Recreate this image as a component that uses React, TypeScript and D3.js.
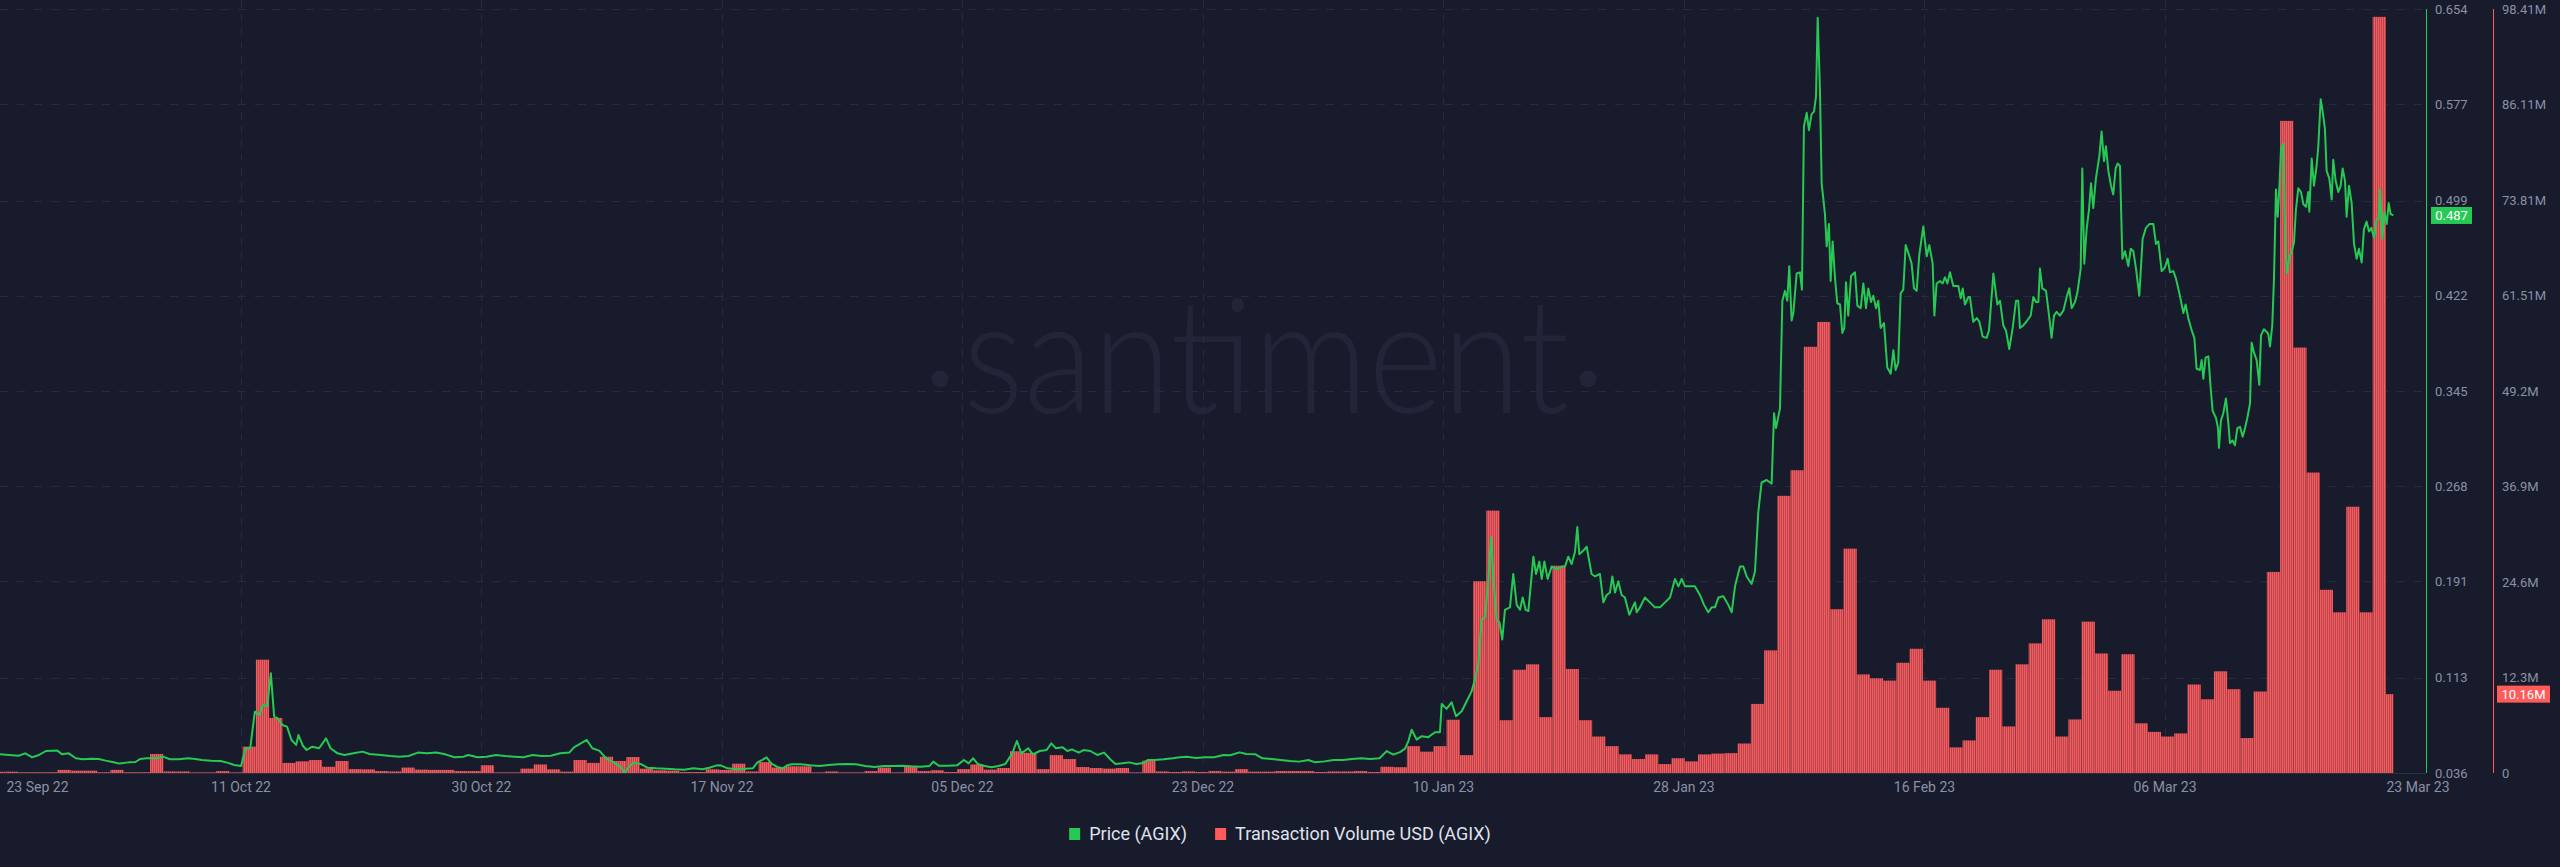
import React, { useEffect, useRef } from 'react';
import * as d3 from 'd3';

const W = 2560;
const H = 867;

// plot frame
const plotRight = 2426;
const plotTop = 9;
const plotBottom = 773;
const priceAxisX = 2426.5;
const volumeAxisX = 2493.5;

const BG = '#181b2b';
const GREEN = '#26c953';
const RED = '#ff5b5b';
const GRID = '#272b3d';
const MUTED = '#8a90a6';
const FONT = 'Roboto, "Noto Sans", sans-serif';

const startDay = Date.UTC(2022, 8, 23);
const dayToDate = (d: number) => new Date(startDay + d * 864e5);

const xTickLabels = [
  '23 Sep 22', '11 Oct 22', '30 Oct 22', '17 Nov 22', '05 Dec 22', '23 Dec 22',
  '10 Jan 23', '28 Jan 23', '16 Feb 23', '06 Mar 23', '23 Mar 23',
];

const priceTicks = [0.036, 0.113, 0.191, 0.268, 0.345, 0.422, 0.499, 0.577, 0.654];
const volumeTicks = [0, 12.3, 24.6, 36.9, 49.2, 61.51, 73.81, 86.11, 98.41];
const volumeTickLabels = ['0', '12.3M', '24.6M', '36.9M', '49.2M', '61.51M', '73.81M', '86.11M', '98.41M'];

// daily transaction volume (millions USD), from 23 Sep 22
const volumeM = [
  0.15, 0.17, 0.1, 0.1, 0.1, 0.4, 0.3, 0.3, 0.1, 0.4,
  0.1, 0.1, 2.45, 0.2, 0.2, 0.08, 0.08, 0.25, 0.08, 3.4,
  14.6, 7.1, 1.3, 1.5, 1.67, 0.8, 1.55, 0.5, 0.47, 0.25,
  0.2, 0.7, 0.43, 0.4, 0.4, 0.25, 0.25, 1.0, 0.08, 0.08,
  0.56, 1.1, 0.47, 0.17, 1.67, 1.3, 2.1, 1.55, 2.06, 0.56,
  0.35, 0.3, 0.13, 0.13, 0.47, 0.4, 1.2, 0.2, 1.4, 0.7,
  0.86, 0.86, 0.08, 0.2, 0.08, 0.08, 0.25, 0.7, 0.08, 0.8,
  0.25, 0.35, 0.13, 0.5, 1.1, 0.43, 0.64, 2.8, 2.6, 0.5,
  2.3, 1.8, 0.77, 0.64, 0.56, 0.64, 0.08, 1.6, 0.2, 0.13,
  0.2, 0.13, 0.25, 0.17, 0.5, 0.17, 0.17, 0.25, 0.25, 0.25,
  0.13, 0.2, 0.2, 0.25, 0.13, 0.8, 0.75, 3.46, 2.75, 3.46,
  6.86, 2.3, 24.7, 33.8, 6.8, 13.3, 14.0, 7.2, 26.7, 13.4,
  6.8, 4.7, 3.46, 2.4, 1.8, 2.4, 1.15, 1.9, 1.5, 2.4,
  2.5, 2.56, 3.8, 8.9, 15.8, 35.7, 39.0, 54.9, 58.1, 21.1,
  28.9, 12.7, 12.2, 11.9, 14.2, 16.0, 11.9, 8.4, 3.3, 4.2,
  7.2, 13.3, 6.0, 14.0, 16.7, 19.8, 4.7, 6.9, 19.5, 15.4,
  10.6, 15.3, 6.4, 5.3, 4.7, 5.1, 11.4, 9.5, 13.1, 10.8,
  4.5, 10.5, 25.9, 84.0, 54.8, 38.7, 23.6, 20.7, 34.3, 20.7,
  97.4, 10.16,
];

// price (USD): [days since 23 Sep 22, price]
const priceSeries: [number, number][] = [
  [0.66, 0.0511], [2.05, 0.05], [2.57, 0.0519], [3.09, 0.0487], [3.61, 0.0506], [4.13, 0.0538], [5.0, 0.0541],
  [5.34, 0.0511], [5.86, 0.0519], [6.38, 0.0479], [6.91, 0.0471], [7.6, 0.0476], [8.12, 0.0473], [8.64, 0.046],
  [9.16, 0.0449], [9.68, 0.0436], [10.38, 0.0446], [10.9, 0.0449], [11.24, 0.0473], [11.76, 0.0479], [12.46, 0.0479],
  [12.98, 0.0492], [13.5, 0.0471], [14.19, 0.0471], [14.89, 0.0479], [15.41, 0.0473], [15.93, 0.0465], [16.62, 0.046],
  [17.32, 0.0457], [17.84, 0.0444], [18.36, 0.0425], [18.88, 0.0417], [19.22, 0.056], [19.57, 0.056], [19.92, 0.0856],
  [20.27, 0.0829], [20.51, 0.091], [20.86, 0.0902], [21.13, 0.1166], [21.38, 0.0816], [21.65, 0.0802], [22.0, 0.0748],
  [22.35, 0.0735], [22.69, 0.0627], [23.04, 0.0587], [23.22, 0.0667], [23.56, 0.0578], [23.84, 0.0546], [24.26, 0.0573],
  [24.78, 0.056], [25.3, 0.064], [25.64, 0.056], [26.17, 0.0519], [26.69, 0.0506], [27.38, 0.0519], [28.07, 0.0533],
  [28.59, 0.0514], [29.46, 0.0506], [30.16, 0.0498], [30.85, 0.0492], [31.54, 0.0498], [32.24, 0.0525], [32.93, 0.0519],
  [33.63, 0.0525], [34.32, 0.0511], [35.01, 0.0487], [35.71, 0.0492], [36.06, 0.0506], [36.75, 0.0487], [37.44, 0.0492],
  [38.14, 0.0506], [38.83, 0.0498], [39.53, 0.0492], [40.22, 0.0487], [40.91, 0.0506], [41.61, 0.0498], [42.3, 0.05],
  [43.0, 0.0519], [43.69, 0.0525], [44.04, 0.0568], [44.56, 0.06], [45.01, 0.0627], [45.43, 0.056], [45.95, 0.0541],
  [46.47, 0.0479], [47.16, 0.0438], [47.68, 0.0398], [47.85, 0.0357], [48.2, 0.0411], [48.55, 0.0444], [49.07, 0.0433],
  [49.59, 0.0403], [50.28, 0.0398], [50.98, 0.0395], [51.67, 0.039], [52.37, 0.0387], [53.06, 0.0398], [53.75, 0.039],
  [54.27, 0.0403], [54.78, 0.042], [55.13, 0.0422], [55.65, 0.0398], [56.35, 0.039], [57.04, 0.0395], [57.56, 0.0398],
  [57.91, 0.0446], [58.25, 0.0465], [58.6, 0.0487], [58.95, 0.0438], [59.47, 0.0406], [59.82, 0.0398], [60.16, 0.0422],
  [60.51, 0.043], [61.2, 0.043], [61.9, 0.0422], [62.59, 0.0417], [63.29, 0.0425], [63.98, 0.043], [64.67, 0.0433],
  [65.37, 0.043], [66.06, 0.0417], [66.76, 0.0409], [67.45, 0.0417], [68.14, 0.0417], [68.84, 0.0419], [69.53, 0.0414],
  [70.23, 0.0411], [70.92, 0.0417], [71.2, 0.0452], [71.62, 0.0419], [72.31, 0.0419], [73.0, 0.0422], [73.52, 0.0465],
  [73.87, 0.0438], [74.22, 0.0479], [74.56, 0.0433], [75.08, 0.0417], [75.61, 0.0406], [76.13, 0.0417], [76.65, 0.0433],
  [77.17, 0.0519], [77.52, 0.0619], [77.86, 0.0519], [78.38, 0.056], [78.73, 0.0511], [79.25, 0.0538], [79.77, 0.0546],
  [80.12, 0.06], [80.47, 0.056], [80.98, 0.0568], [81.33, 0.0538], [81.68, 0.0551], [82.2, 0.0525], [82.55, 0.0546],
  [83.07, 0.0538], [83.59, 0.0506], [84.11, 0.0525], [84.63, 0.0465], [84.98, 0.0433], [85.5, 0.0438], [86.02, 0.0446],
  [86.54, 0.0433], [87.06, 0.0441], [87.41, 0.0465], [87.93, 0.0465], [88.62, 0.0471], [89.31, 0.0479], [89.83, 0.0487],
  [90.36, 0.0492], [91.05, 0.0481], [91.74, 0.0487], [92.44, 0.0487], [93.13, 0.0506], [93.65, 0.0503], [94.35, 0.0527],
  [94.87, 0.0514], [95.56, 0.0511], [96.08, 0.0479], [96.78, 0.0473], [97.47, 0.0465], [98.16, 0.0457], [98.86, 0.0452],
  [99.55, 0.0465], [100.07, 0.0446], [100.77, 0.0454], [101.46, 0.0465], [102.15, 0.0465], [102.85, 0.0473],
  [103.54, 0.0479], [104.24, 0.0473], [104.93, 0.0479], [105.47, 0.0537], [105.97, 0.0509], [106.48, 0.0529],
  [106.86, 0.0557], [107.11, 0.0618], [107.36, 0.071], [107.74, 0.063], [108.12, 0.0658], [108.62, 0.065],
  [109.12, 0.069], [109.5, 0.069], [109.63, 0.0919], [110.0, 0.0879], [110.38, 0.0932], [110.71, 0.0819],
  [111.14, 0.0859], [111.52, 0.094], [111.89, 0.102], [112.15, 0.112], [112.4, 0.124], [112.65, 0.16], [112.9, 0.162],
  [113.15, 0.191], [113.36, 0.227], [113.53, 0.195], [113.78, 0.16], [113.99, 0.158], [114.21, 0.144], [114.41, 0.168],
  [114.79, 0.17], [115.04, 0.197], [115.3, 0.172], [115.55, 0.168], [115.75, 0.178], [115.98, 0.168], [116.18, 0.167],
  [116.56, 0.211], [116.76, 0.197], [117.01, 0.207], [117.19, 0.193], [117.39, 0.207], [117.64, 0.193], [117.94, 0.203],
  [118.32, 0.201], [118.7, 0.203], [118.95, 0.203], [119.2, 0.211], [119.45, 0.205], [119.71, 0.215], [119.88, 0.235],
  [120.03, 0.213], [120.34, 0.216], [120.59, 0.219], [120.96, 0.197], [121.22, 0.195], [121.59, 0.197], [121.85, 0.174],
  [122.1, 0.18], [122.35, 0.182], [122.53, 0.195], [122.73, 0.182], [122.98, 0.191], [123.23, 0.18], [123.48, 0.178],
  [123.81, 0.164], [124.06, 0.17], [124.24, 0.174], [124.37, 0.166], [124.62, 0.17], [124.99, 0.178], [125.37, 0.174],
  [125.75, 0.17], [126.13, 0.17], [126.51, 0.174], [126.89, 0.178], [127.26, 0.193], [127.52, 0.187], [127.77, 0.193],
  [128.02, 0.187], [128.4, 0.187], [128.77, 0.187], [129.15, 0.18], [129.46, 0.172], [129.78, 0.166], [130.04, 0.17],
  [130.29, 0.17], [130.54, 0.178], [130.92, 0.179], [131.29, 0.172], [131.55, 0.166], [131.8, 0.187], [132.18, 0.203],
  [132.43, 0.203], [132.68, 0.195], [133.06, 0.189], [133.31, 0.199], [133.56, 0.247], [133.81, 0.271], [134.19, 0.273],
  [134.57, 0.27], [134.75, 0.327], [134.9, 0.315], [135.2, 0.331], [135.38, 0.418], [135.58, 0.426], [135.75, 0.418],
  [135.9, 0.446], [136.08, 0.402], [136.21, 0.408], [136.46, 0.44], [136.71, 0.441], [136.86, 0.427], [137.01, 0.559],
  [137.22, 0.57], [137.39, 0.556], [137.59, 0.569], [137.77, 0.571], [137.92, 0.583], [138.05, 0.647], [138.22, 0.589],
  [138.35, 0.513], [138.6, 0.488], [138.73, 0.462], [138.9, 0.48], [139.03, 0.434], [139.18, 0.466], [139.36, 0.436],
  [139.53, 0.416], [139.74, 0.415], [139.91, 0.392], [140.06, 0.396], [140.19, 0.433], [140.36, 0.406], [140.57, 0.438],
  [140.87, 0.441], [141.05, 0.414], [141.3, 0.412], [141.5, 0.432], [141.7, 0.412], [141.88, 0.428], [142.08, 0.417],
  [142.25, 0.422], [142.46, 0.412], [142.63, 0.418], [142.81, 0.396], [143.06, 0.4], [143.31, 0.364], [143.57, 0.359],
  [143.77, 0.378], [143.94, 0.362], [144.14, 0.368], [144.32, 0.424], [144.52, 0.427], [144.7, 0.463], [144.95, 0.455],
  [145.15, 0.448], [145.33, 0.428], [145.53, 0.426], [145.73, 0.455], [146.03, 0.478], [146.29, 0.454], [146.49, 0.463],
  [146.74, 0.448], [146.87, 0.406], [147.04, 0.432], [147.29, 0.434], [147.5, 0.432], [147.67, 0.437], [147.85, 0.432],
  [148.05, 0.441], [148.3, 0.43], [148.68, 0.43], [148.86, 0.42], [149.01, 0.428], [149.18, 0.415], [149.44, 0.421],
  [149.56, 0.421], [149.81, 0.401], [150.07, 0.404], [150.27, 0.401], [150.52, 0.389], [150.82, 0.388], [151.0, 0.394],
  [151.33, 0.44], [151.63, 0.415], [151.83, 0.418], [152.08, 0.398], [152.28, 0.394], [152.53, 0.379], [152.79, 0.396],
  [153.04, 0.418], [153.21, 0.418], [153.34, 0.396], [153.59, 0.398], [153.89, 0.402], [154.15, 0.406], [154.35, 0.421],
  [154.55, 0.417], [154.73, 0.417], [154.85, 0.444], [155.03, 0.428], [155.31, 0.426], [155.56, 0.404], [155.73, 0.388],
  [155.91, 0.406], [156.11, 0.409], [156.36, 0.406], [156.62, 0.41], [156.87, 0.421], [157.07, 0.428], [157.25, 0.412],
  [157.5, 0.417], [157.67, 0.424], [157.83, 0.436], [157.93, 0.444], [158.05, 0.525], [158.2, 0.448], [158.38, 0.476],
  [158.56, 0.492], [158.71, 0.513], [158.88, 0.493], [159.08, 0.517], [159.34, 0.535], [159.51, 0.555], [159.69, 0.531],
  [159.84, 0.543], [160.02, 0.523], [160.22, 0.511], [160.39, 0.504], [160.57, 0.525], [160.72, 0.529], [160.9, 0.527],
  [161.08, 0.452], [161.28, 0.458], [161.53, 0.446], [161.71, 0.46], [161.91, 0.458], [162.11, 0.444], [162.36, 0.422],
  [162.61, 0.468], [162.86, 0.477], [163.12, 0.48], [163.42, 0.48], [163.62, 0.464], [163.8, 0.466], [164.05, 0.442],
  [164.3, 0.445], [164.5, 0.452], [164.68, 0.441], [164.93, 0.442], [165.13, 0.436], [165.43, 0.422], [165.69, 0.408],
  [165.86, 0.415], [166.06, 0.404], [166.32, 0.394], [166.52, 0.388], [166.69, 0.363], [166.95, 0.362], [167.07, 0.37],
  [167.2, 0.355], [167.37, 0.372], [167.58, 0.373], [167.75, 0.348], [167.9, 0.329], [168.16, 0.323], [168.31, 0.315],
  [168.38, 0.299], [168.53, 0.321], [168.71, 0.327], [168.91, 0.339], [169.09, 0.319], [169.21, 0.303], [169.41, 0.305],
  [169.59, 0.301], [169.77, 0.315], [169.97, 0.316], [170.17, 0.308], [170.35, 0.315], [170.52, 0.323], [170.73, 0.335],
  [170.85, 0.384], [171.03, 0.376], [171.23, 0.37], [171.43, 0.35], [171.56, 0.39], [171.78, 0.395], [171.98, 0.393],
  [172.11, 0.391], [172.24, 0.381], [172.41, 0.398], [172.54, 0.436], [172.69, 0.508], [172.82, 0.486], [172.94, 0.508],
  [173.07, 0.541], [173.25, 0.545], [173.37, 0.476], [173.5, 0.44], [173.7, 0.453], [173.88, 0.458], [174.05, 0.465],
  [174.2, 0.492], [174.38, 0.509], [174.58, 0.506], [174.76, 0.496], [174.96, 0.494], [175.13, 0.506], [175.21, 0.49],
  [175.39, 0.533], [175.56, 0.511], [175.76, 0.527], [175.89, 0.543], [176.07, 0.581], [176.22, 0.571], [176.39, 0.557],
  [176.52, 0.523], [176.72, 0.517], [176.9, 0.5], [177.02, 0.532], [177.2, 0.515], [177.4, 0.506], [177.58, 0.511],
  [177.73, 0.525], [177.91, 0.515], [178.03, 0.486], [178.21, 0.511], [178.41, 0.497], [178.59, 0.464], [178.79, 0.452],
  [178.96, 0.46], [179.17, 0.449], [179.34, 0.476], [179.54, 0.482], [179.72, 0.474], [179.9, 0.477], [180.1, 0.469],
  [180.3, 0.484], [180.45, 0.484], [180.55, 0.508], [180.73, 0.468], [180.88, 0.49], [181.06, 0.48], [181.21, 0.497],
  [181.36, 0.488], [181.56, 0.487],
];

const lastPrice = 0.487;
const lastVolume = 10.16;
const lastPriceLabel = '0.487';
const lastVolumeLabel = '10.16M';

const App: React.FC = () => {
  const svgRef = useRef<SVGSVGElement>(null);

  useEffect(() => {
    document.body.style.margin = '0';
    document.body.style.background = BG;
    if (!svgRef.current) return;
    const svg = d3.select(svgRef.current);
    svg.selectAll('*').remove();

    const x = d3.scaleTime()
      .domain([dayToDate(0.6576), dayToDate(184.03)])
      .range([0, plotRight]);
    const yPrice = d3.scaleLinear().domain([0.036, 0.654]).range([plotBottom, plotTop]);
    const yVol = d3.scaleLinear().domain([0, 98.41]).range([plotBottom, plotTop]);
    const xTicks = d3.scalePoint<string>().domain(xTickLabels).range([0, 2405]);

    svg.append('rect').attr('width', W).attr('height', H).attr('fill', BG);

    const defs = svg.append('defs');
    const pat = defs.append('pattern')
      .attr('id', 'volStripes')
      .attr('patternUnits', 'userSpaceOnUse')
      .attr('width', 2)
      .attr('height', 10);
    pat.append('rect').attr('width', 2).attr('height', 10).attr('fill', '#b9454f');
    pat.append('rect').attr('width', 1).attr('height', 10).attr('fill', '#f65c5c');

    defs.append('clipPath').attr('id', 'plotClip')
      .append('rect').attr('x', 0).attr('y', 0).attr('width', plotRight).attr('height', plotBottom);

    // watermark
    const wm = svg.append('g').attr('fill', '#222537');
    wm.append('text')
      .attr('x', 963)
      .attr('y', 413)
      .attr('textLength', 606)
      .attr('lengthAdjust', 'spacingAndGlyphs')
      .style('font-family', 'Lato, "Open Sans", sans-serif')
      .style('font-weight', 300)
      .style('font-size', '160px')
      .text('santiment');
    wm.append('circle').attr('cx', 940).attr('cy', 379).attr('r', 8.5);
    wm.append('circle').attr('cx', 1588).attr('cy', 379).attr('r', 8.5);

    // horizontal grid
    svg.append('g')
      .selectAll('line')
      .data(priceTicks.slice(1))
      .enter()
      .append('line')
      .attr('x1', 0)
      .attr('x2', plotRight)
      .attr('y1', d => Math.round(yPrice(d)) + 0.5)
      .attr('y2', d => Math.round(yPrice(d)) + 0.5)
      .attr('stroke', GRID)
      .attr('stroke-dasharray', '8 9');

    // vertical grid
    svg.append('g')
      .selectAll('line')
      .data(xTickLabels.slice(1, -1))
      .enter()
      .append('line')
      .attr('x1', d => Math.round(xTicks(d) || 0) + 0.5)
      .attr('x2', d => Math.round(xTicks(d) || 0) + 0.5)
      .attr('y1', 0)
      .attr('y2', plotBottom)
      .attr('stroke', GRID)
      .attr('stroke-dasharray', '7 7');

    const plot = svg.append('g').attr('clip-path', 'url(#plotClip)');

    // volume bars
    const lastDay = priceSeries[priceSeries.length - 1][0];
    plot.append('g')
      .selectAll('rect')
      .data(volumeM)
      .enter()
      .append('rect')
      .attr('x', (_, i) => x(dayToDate(i)))
      .attr('width', (_, i) => x(dayToDate(Math.min(i + 1, lastDay))) - x(dayToDate(i)))
      .attr('y', d => yVol(d))
      .attr('height', d => plotBottom - yVol(d))
      .attr('fill', 'url(#volStripes)');

    // price line
    const line = d3.line<[number, number]>()
      .x(d => x(dayToDate(d[0])))
      .y(d => yPrice(d[1]));
    plot.append('path')
      .datum(priceSeries)
      .attr('d', line)
      .attr('fill', 'none')
      .attr('stroke', GREEN)
      .attr('stroke-width', 2)
      .attr('stroke-linejoin', 'round');

    // bottom line
    svg.append('line')
      .attr('x1', 0).attr('x2', plotRight)
      .attr('y1', plotBottom + 0.5).attr('y2', plotBottom + 0.5)
      .attr('stroke', '#2c3043');

    // right axes
    svg.append('line')
      .attr('x1', priceAxisX).attr('x2', priceAxisX)
      .attr('y1', plotTop).attr('y2', plotBottom)
      .attr('stroke', GREEN);
    svg.append('line')
      .attr('x1', volumeAxisX).attr('x2', volumeAxisX)
      .attr('y1', plotTop).attr('y2', plotBottom)
      .attr('stroke', RED);

    svg.append('g')
      .selectAll('text')
      .data(priceTicks)
      .enter()
      .append('text')
      .attr('x', 2435)
      .attr('y', d => yPrice(d))
      .attr('dy', '0.35em')
      .attr('fill', MUTED)
      .style('font-family', FONT)
      .style('font-size', '13px')
      .text(d => d.toFixed(3));

    svg.append('g')
      .selectAll('text')
      .data(volumeTicks)
      .enter()
      .append('text')
      .attr('x', 2502)
      .attr('y', d => yVol(d))
      .attr('dy', '0.35em')
      .attr('fill', MUTED)
      .style('font-family', FONT)
      .style('font-size', '13px')
      .text((_, i) => volumeTickLabels[i]);

    // last value badges
    const pY = yPrice(lastPrice);
    svg.append('rect')
      .attr('x', 2431).attr('y', pY - 8.5).attr('width', 41).attr('height', 17)
      .attr('fill', GREEN);
    svg.append('text')
      .attr('x', 2451.5).attr('y', pY).attr('dy', '0.35em')
      .attr('text-anchor', 'middle').attr('fill', '#ffffff')
      .style('font-family', FONT).style('font-size', '13px')
      .text(lastPriceLabel);
    const vY = yVol(lastVolume);
    svg.append('rect')
      .attr('x', 2497).attr('y', vY - 8.5).attr('width', 53).attr('height', 17)
      .attr('fill', RED);
    svg.append('text')
      .attr('x', 2523.5).attr('y', vY).attr('dy', '0.35em')
      .attr('text-anchor', 'middle').attr('fill', '#ffffff')
      .style('font-family', FONT).style('font-size', '13px')
      .text(lastVolumeLabel);

    // x axis
    const xAxis = svg.append('g')
      .attr('transform', `translate(0,${plotBottom + 6})`)
      .call(d3.axisBottom(xTicks).tickSize(0).tickPadding(0));
    xAxis.select('.domain').remove();
    xAxis.selectAll('text')
      .attr('fill', MUTED)
      .attr('dy', '0.95em')
      .style('font-family', FONT)
      .style('font-size', '14px');
    xAxis.selectAll<SVGTextElement, string>('text')
      .filter(d => d === xTickLabels[0])
      .attr('text-anchor', 'start')
      .attr('dx', 6);
    xAxis.selectAll<SVGTextElement, string>('text')
      .filter(d => d === xTickLabels[xTickLabels.length - 1])
      .attr('text-anchor', 'end')
      .attr('dx', 44);

    // legend
    const legendItems = [
      { label: 'Price (AGIX)', color: GREEN },
      { label: 'Transaction Volume USD (AGIX)', color: RED },
    ];
    const legend = svg.append('g');
    let cursor = 0;
    legendItems.forEach((item, i) => {
      const g = legend.append('g').attr('transform', `translate(${cursor},0)`);
      g.append('rect').attr('x', 0).attr('y', -6).attr('width', 11).attr('height', 12).attr('fill', item.color);
      const t = g.append('text')
        .attr('x', 20)
        .attr('y', 0)
        .attr('dy', '0.35em')
        .attr('fill', '#dfe2ec')
        .style('font-family', FONT)
        .style('font-size', '18px')
        .text(item.label);
      const tw = (t.node() as SVGTextElement).getComputedTextLength();
      cursor += 20 + tw + (i < legendItems.length - 1 ? 28 : 0);
    });
    legend.attr('transform', `translate(${W / 2 - cursor / 2},834)`);
  }, []);

  return (
    <svg ref={svgRef} width={W} height={H} style={{ display: 'block' }} />
  );
};

export default App;
